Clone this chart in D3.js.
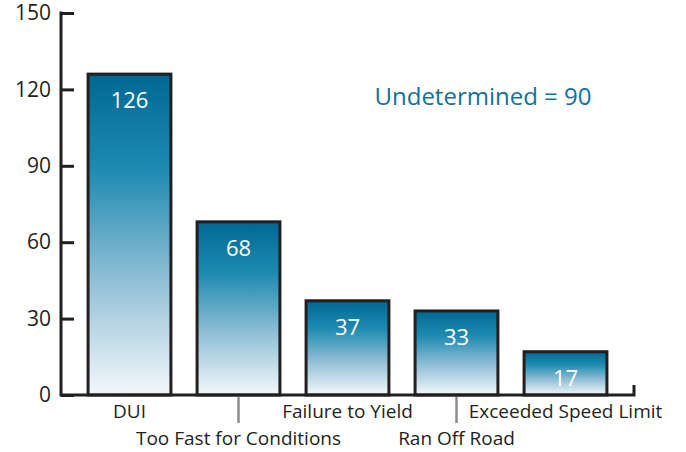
<!DOCTYPE html>
<html>
<head>
<meta charset="utf-8">
<script src="https://cdn.jsdelivr.net/npm/d3@7"></script>
<style>
  body { margin: 0; background: #fff; }
  text { font-family: "Open Sans", "Noto Sans", sans-serif; }
</style>
</head>
<body>
<svg id="chart"></svg>
<script>
// data
const categories = ["DUI", "Too Fast for Conditions", "Failure to Yield", "Ran Off Road", "Exceeded Speed Limit"];
const counts = [126, 68, 37, 33, 17];
const yTicks = [0, 30, 60, 90, 120, 150];
const note = "Undetermined = 90";

const width = 686, height = 452;
const svg = d3.select("#chart").attr("width", width).attr("height", height);

// scales
const x = d3.scaleBand()
    .domain(categories)
    .range([75, 620])
    .paddingInner(0.24)
    .paddingOuter(0.12);
const y = d3.scaleLinear().domain([0, 150]).range([395, 13]);

// gradient for the bars
const grad = svg.append("defs").append("linearGradient")
    .attr("id", "barGrad")
    .attr("x1", 0).attr("y1", 0).attr("x2", 0).attr("y2", 1);
grad.append("stop").attr("offset", "0%").attr("stop-color", "#006893");
grad.append("stop").attr("offset", "30%").attr("stop-color", "#1f8bb1");
grad.append("stop").attr("offset", "65%").attr("stop-color", "#93c0d7");
grad.append("stop").attr("offset", "100%").attr("stop-color", "#f3f8fb");

// bars
svg.selectAll(".bar")
    .data(categories)
    .join("rect")
    .attr("class", "bar")
    .attr("x", d => x(d))
    .attr("y", (d, i) => y(counts[i]))
    .attr("width", x.bandwidth())
    .attr("height", (d, i) => y(0) - y(counts[i]))
    .attr("fill", "url(#barGrad)")
    .attr("stroke", "#231f20")
    .attr("stroke-width", 3);

// value labels
svg.selectAll(".val")
    .data(categories)
    .join("text")
    .attr("class", "val")
    .attr("x", d => x(d) + x.bandwidth() / 2)
    .attr("y", (d, i) => y(counts[i]) + 34)
    .attr("text-anchor", "middle")
    .attr("fill", "#fff")
    .style("font-size", "22px")
    .text((d, i) => counts[i]);

// y axis
const yAxis = d3.axisLeft(y).tickValues(yTicks).tickSize(0).tickPadding(10);
const yG = svg.append("g").attr("transform", "translate(61,0)").call(yAxis);
yG.select(".domain").remove();
yG.selectAll("text").style("font-size", "21px").attr("fill", "#231f20");
yG.selectAll(".tick").append("line")
    .attr("x1", 0).attr("x2", 13)
    .attr("stroke", "#231f20").attr("stroke-width", 3);
svg.append("line")
    .attr("x1", 61).attr("x2", 61)
    .attr("y1", y(150) - 1.5).attr("y2", y(0) + 1.5)
    .attr("stroke", "#231f20").attr("stroke-width", 3);

// x axis baseline with end tick
svg.append("path")
    .attr("d", `M61,${y(0)}H634V${y(0) - 10}`)
    .attr("fill", "none")
    .attr("stroke", "#231f20")
    .attr("stroke-width", 3);

// category labels, staggered
svg.selectAll(".cat")
    .data(categories)
    .join("text")
    .attr("class", "cat")
    .attr("x", d => x(d) + x.bandwidth() / 2)
    .attr("y", (d, i) => i % 2 === 0 ? 418 : 445)
    .attr("text-anchor", "middle")
    .attr("fill", "#231f20")
    .style("font-size", "19px")
    .text(d => d);

// leader lines for the lower labels
svg.selectAll(".leader")
    .data(categories.filter((d, i) => i % 2 === 1))
    .join("line")
    .attr("class", "leader")
    .attr("x1", d => x(d) + x.bandwidth() / 2)
    .attr("x2", d => x(d) + x.bandwidth() / 2)
    .attr("y1", 397).attr("y2", 423)
    .attr("stroke", "#8a8c8e")
    .attr("stroke-width", 2.5);

// note
svg.append("text")
    .attr("x", 483).attr("y", 105)
    .attr("text-anchor", "middle")
    .attr("fill", "#12719b")
    .style("font-size", "24px")
    .text(note);
</script>
</body>
</html>
